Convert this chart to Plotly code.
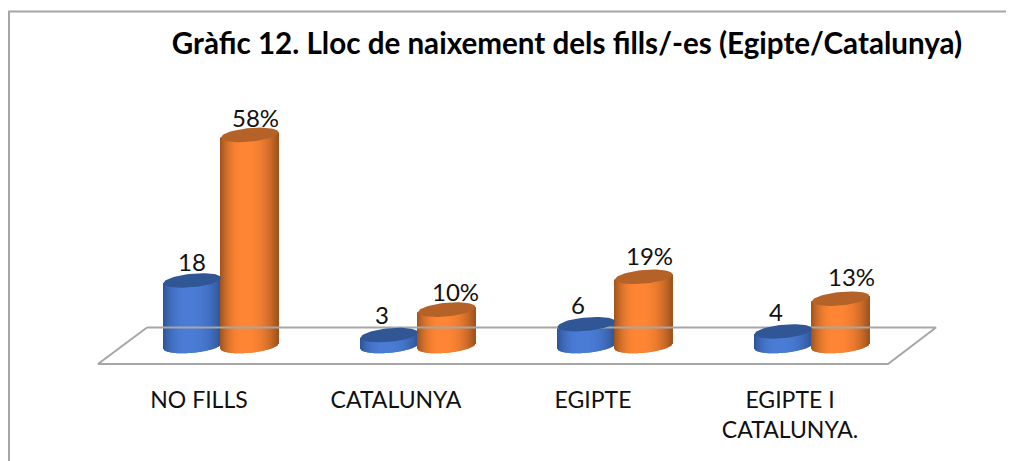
import numpy as np
import plotly.graph_objects as go

# ---- data ----
categories = ["NO FILLS", "CATALUNYA", "EGIPTE", "EGIPTE I<br>CATALUNYA."]
counts = [18, 3, 6, 4]
percents = [58, 10, 19, 13]
title_text = "Gràfic 12. Lloc de naixement dels fills/-es (Egipte/Catalunya)"

# ---- styling / geometry (pixel scale of the axes) ----
W, H = 1014, 461
PAGE = 8                        # the page body's own margin around the figure
AXIS_BOTTOM = 384 - PAGE
X0_PX, X_STEP_PX = 199 - PAGE, 197     # pixel of category 0, pixels per category
Y0_PX, Y_UNIT_PX = 346 - PAGE, 3.64    # pixel of value 0, pixels per value unit
PAIR_OFFSET = 22 / X_STEP_PX
RAD_X = 28.7 / X_STEP_PX
RAD_Y = 6.8 / Y_UNIT_PX
TILT = 2.6 / Y_UNIT_PX
FONT = "Lato"

BLUE_DARK, BLUE_LIGHT, BLUE_TOP = (47, 85, 150), (75, 125, 215), (48, 86, 150)
ORANGE_DARK, ORANGE_LIGHT, ORANGE_TOP = (160, 84, 30), (255, 134, 52), (180, 98, 40)


def shade(u, dark, light):
    """u in [-1, 1] across the cylinder; brightest slightly right of centre."""
    v = (u + 0.15) / (1.15 if u > -0.15 else 0.85)
    w = np.clip(1 - abs(v) ** 2.4, 0, 1)
    c = [int(d + (l - d) * w) for d, l in zip(dark, light)]
    return f"rgb({c[0]},{c[1]},{c[2]})"


def cylinder(center, value, dark, light, top):
    """Body as thin bars on the value axis plus an elliptical cap."""
    n = 58
    us = np.linspace(-0.995, 0.995, n)
    xs = center + us * RAD_X
    bases = TILT * us - RAD_Y * np.sqrt(1 - us ** 2)
    tops = value + TILT * us
    body = go.Bar(
        x=xs, y=tops - bases, base=bases, width=2.0 * RAD_X / n * 1.25,
        marker=dict(color=[shade(u, dark, light) for u in us], line_width=0),
        hoverinfo="skip", showlegend=False,
    )
    t = np.linspace(0, 2 * np.pi, 80)
    cap = go.Scatter(
        x=center + RAD_X * np.cos(t),
        y=value + TILT * np.cos(t) + RAD_Y * np.sin(t),
        mode="lines", fill="toself", fillcolor=f"rgb{top}",
        line=dict(width=0), hoverinfo="skip", showlegend=False,
    )
    return [body, cap]


fig = go.Figure()

# floor
fx = [(p - PAGE - X0_PX) / X_STEP_PX for p in (147, 936, 888, 98, 147)]
fy = [(Y0_PX - (p - PAGE)) / Y_UNIT_PX for p in (327.5, 327.5, 364, 364, 327.5)]
fig.add_trace(go.Scatter(x=fx, y=fy, mode="lines", line=dict(color="#a6a6a6", width=2),
                         hoverinfo="skip", showlegend=False))

for i, (c, p) in enumerate(zip(counts, percents)):
    fig.add_traces(cylinder(i + PAIR_OFFSET - RAD_X, c, BLUE_DARK, BLUE_LIGHT, BLUE_TOP))
    fig.add_traces(cylinder(i + PAIR_OFFSET + RAD_X, p, ORANGE_DARK, ORANGE_LIGHT, ORANGE_TOP))

# value labels
count_shift = [0, -7, -8, -7]
pct_shift = [6, 9, 6, 11]
count_lift = [19, 21, 20, 20]
pct_lift = [17, 18, 21, 22]
for i, (c, p) in enumerate(zip(counts, percents)):
    for x, v, txt, sh, lift in (
        (i + PAIR_OFFSET - RAD_X, c, str(c), count_shift[i], count_lift[i]),
        (i + PAIR_OFFSET + RAD_X, p, f"{p}%", pct_shift[i], pct_lift[i]),
    ):
        fig.add_annotation(x=x, y=v, text=txt, showarrow=False, xshift=sh, yshift=lift,
                           yanchor="middle", font=dict(family=FONT, size=24, color="#111111"))

# frame: only left and top edges are visible
plot_h = AXIS_BOTTOM
fig.add_shape(type="line", xref="paper", yref="paper", x0=1 / W, x1=1 / W,
              y0=1 - H / plot_h, y1=1 - 3.5 / plot_h, line=dict(color="#a6a6a6", width=2))
fig.add_shape(type="line", xref="paper", yref="paper", x0=0, x1=1,
              y0=1 - 3.5 / plot_h, y1=1 - 3.5 / plot_h, line=dict(color="#a6a6a6", width=2))

fig.update_layout(
    width=W, height=H, autosize=False,
    margin=dict(l=0, r=0, t=0, b=H - AXIS_BOTTOM, pad=0),
    paper_bgcolor="white", plot_bgcolor="white",
    barmode="overlay", showlegend=False,
    title=dict(text=f"<b>{title_text}</b>", x=(567 - PAGE) / W, xanchor="center",
               y=1 - 35.5 / H, yanchor="middle",
               font=dict(family=FONT, size=29.6, color="#000000")),
    xaxis=dict(range=[-X0_PX / X_STEP_PX, (W - X0_PX) / X_STEP_PX],
               tickmode="array", tickvals=list(range(len(categories))), ticktext=categories,
               showgrid=False, zeroline=False, showline=False, ticks="",
               tickfont=dict(family=FONT, size=23, color="#111111"), automargin=False),
    yaxis=dict(range=[(Y0_PX - AXIS_BOTTOM) / Y_UNIT_PX, Y0_PX / Y_UNIT_PX],
               visible=False),
)

fig.write_html("out.html")
